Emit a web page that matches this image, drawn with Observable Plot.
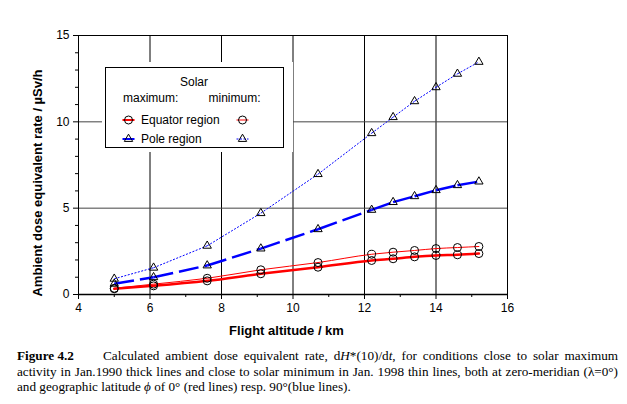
<!DOCTYPE html>
<html>
<head>
<meta charset="utf-8">
<script src="https://cdn.jsdelivr.net/npm/d3@7"></script>
<script src="https://cdn.jsdelivr.net/npm/@observablehq/plot@0.6"></script>
<style>
  html, body { margin: 0; padding: 0; background: white; }
  #chart svg { display: block; }
  #caption {
    font-family: "Liberation Serif", "Times New Roman", serif;
    font-size: 13.2px;
    line-height: 15.5px;
    margin-left: 17px;
    width: 601px;
    padding-top: 8px;
    color: black;
  }
  #caption .j { text-align: justify; text-align-last: justify; white-space: nowrap; }
  #caption .l { text-align: left; white-space: nowrap; }
  #caption b { display: inline-block; width: 86px; text-align: left; text-align-last: left; white-space: nowrap; }
</style>
</head>
<body>
<div id="chart"></div>
<div id="caption">
  <div class="j"><b>Figure&nbsp;4.2</b>Calculated ambient dose equivalent rate, d<i>H</i>*(10)/d<i>t</i>, for conditions close to solar maximum</div>
  <div class="j">activity in Jan.1990 thick lines and close to solar minimum in Jan. 1998 thin lines, both at zero-meridian (λ=0°)</div>
  <div class="l">and geographic latitude <i>ϕ</i> of 0° (red lines) resp. 90°(blue lines).</div>
</div>
<script>
// Flight altitude (km)
const altitude = [5.0, 6.1, 7.6, 9.1, 10.7, 12.2, 12.8, 13.4, 14.0, 14.6, 15.2];
// Ambient dose equivalent rate (µSv/h)
const equatorMax = [0.33, 0.50, 0.79, 1.20, 1.58, 1.97, 2.07, 2.18, 2.26, 2.30, 2.37];
const equatorMin = [0.36, 0.60, 0.94, 1.43, 1.85, 2.33, 2.45, 2.55, 2.66, 2.72, 2.78];
const poleMax    = [0.62, 1.00, 1.68, 2.66, 3.78, 4.90, 5.35, 5.69, 6.04, 6.33, 6.54];
const poleMin    = [0.91, 1.55, 2.82, 4.71, 6.97, 9.34, 10.27, 11.19, 12.00, 12.78, 13.47];

const xTicks = [4, 6, 8, 10, 12, 14, 16];
const xMinorTicks = [5, 7, 9, 11, 13, 15];
const yTicks = [0, 5, 10, 15];
const yMinorTicks = [1, 2, 3, 4, 6, 7, 8, 9, 11, 12, 13, 14];

const series = [
  {values: equatorMax, stroke: "#ff0000", width: 2.5, dash: null, symbol: "circle"},
  {values: equatorMin, stroke: "#ff0000", width: 1, dash: null, symbol: "circle"},
  {values: poleMax, stroke: "#0000ff", width: 2.5, dash: "20,6", symbol: "triangle"},
  {values: poleMin, stroke: "#0000ff", width: 1, dash: "2,1.5", symbol: "triangle"}
];

// dashed series split into segments (dash pattern restarts at every data point)
const lineMarks = [];
const dotMarks = [];
for (const s of series) {
  const pts = altitude.map((x, i) => ({x, y: s.values[i]}));
  const segs = altitude.slice(1).flatMap((x, i) => [
    {x: altitude[i], y: s.values[i], seg: i},
    {x, y: s.values[i + 1], seg: i}
  ]);
  if (s.dash) {
    lineMarks.push(Plot.line(segs, {x: "x", y: "y", z: "seg", stroke: s.stroke, strokeWidth: s.width, strokeDasharray: s.dash, strokeLinecap: "butt"}));
  } else {
    lineMarks.push(Plot.line(pts, {x: "x", y: "y", stroke: s.stroke, strokeWidth: s.width, curve: "monotone-x"}));
  }
  dotMarks.push(Plot.dot(pts, {x: "x", y: "y", symbol: s.symbol, r: s.symbol === "circle" ? 4 : 3.1, stroke: "black", strokeWidth: 1, fill: "none"}));
}

const chart = Plot.plot({
  width: 627,
  height: 340,
  marginLeft: 78,
  marginRight: 120,
  marginTop: 35,
  marginBottom: 46,
  style: {fontFamily: "'Liberation Sans', Arial, sans-serif", fontSize: "12px", color: "black", background: "white", overflow: "visible"},
  x: {domain: [4, 16]},
  y: {domain: [0, 15]},
  marks: [
    Plot.gridX([6, 8, 10, 12, 14], {stroke: "black", strokeOpacity: 1, strokeWidth: 1}),
    Plot.gridY([5, 10], {stroke: "#444", strokeOpacity: 1, strokeWidth: 1}),
    ...lineMarks,
    ...dotMarks,
    Plot.frame({stroke: "black", strokeWidth: 1}),
    Plot.ruleY([0], {stroke: "black", strokeWidth: 1.5}),
    Plot.axisX(xTicks, {tickSize: 5, tickPadding: 4, label: null, fontSize: 12}),
    Plot.axisX(xMinorTicks, {tickSize: 3, tickFormat: () => "", label: null}),
    Plot.axisY(yTicks, {tickSize: 5, tickPadding: 4, label: null, fontSize: 12}),
    Plot.axisY(yMinorTicks, {tickSize: 3, tickFormat: () => "", label: null})
  ]
});

document.getElementById("chart").appendChild(chart);

// Axis titles and legend
const svg = d3.select(chart);
const font = "'Liberation Sans', Arial, sans-serif";

svg.append("text")
  .attr("x", 286.5).attr("y", 330).attr("dy", "0.35em")
  .attr("text-anchor", "middle")
  .attr("font-family", font).attr("font-size", 13).attr("font-weight", "bold")
  .attr("fill", "black")
  .text("Flight altitude / km");

svg.append("text")
  .attr("transform", "translate(42,183) rotate(-90)")
  .attr("text-anchor", "middle")
  .attr("font-family", font).attr("font-size", 13).attr("font-weight", "bold")
  .attr("fill", "black")
  .text("Ambient dose equivalent rate / µSv/h");

const lg = svg.append("g").attr("font-family", font).attr("font-size", 12).attr("fill", "black").attr("text-anchor", "start");
lg.append("rect").attr("x", 102).attr("y", 62).attr("width", 191).attr("height", 90).attr("fill", "white");
lg.append("rect").attr("x", 105.5).attr("y", 67.5).attr("width", 178).attr("height", 80).attr("fill", "white").attr("stroke", "black").attr("stroke-width", 1);
lg.append("text").attr("x", 194).attr("y", 82).attr("dy", "0.35em").attr("text-anchor", "middle").text("Solar");
lg.append("text").attr("x", 123).attr("y", 98).attr("dy", "0.35em").attr("text-anchor", "start").text("maximum:");
lg.append("text").attr("x", 208.5).attr("y", 98).attr("dy", "0.35em").attr("text-anchor", "start").text("minimum:");
lg.append("text").attr("x", 141).attr("y", 120).attr("dy", "0.35em").attr("text-anchor", "start").text("Equator region");
lg.append("text").attr("x", 141).attr("y", 139).attr("dy", "0.35em").attr("text-anchor", "start").text("Pole region");

const legendRows = [
  {y: 120, s: series[0], cx: 128.5},
  {y: 120, s: series[1], cx: 242.5},
  {y: 139, s: series[2], cx: 128.5},
  {y: 139, s: series[3], cx: 242.5}
];
for (const r of legendRows) {
  lg.append("line")
    .attr("x1", r.cx - 6).attr("x2", r.cx + 6).attr("y1", r.y).attr("y2", r.y)
    .attr("stroke", r.s.stroke).attr("stroke-width", r.s.width > 1 ? 2 : 1)
    .attr("stroke-dasharray", r.s.dash && r.s.width === 1 ? "2,1.5" : null);
  const isCircle = r.s.symbol === "circle";
  const sym = d3.symbol(isCircle ? d3.symbolCircle : d3.symbolTriangle, isCircle ? Math.PI * 16 : Math.PI * 3.1 * 3.1);
  lg.append("path")
    .attr("transform", `translate(${r.cx},${r.y})`)
    .attr("d", sym())
    .attr("fill", "none").attr("stroke", "black").attr("stroke-width", 1);
}
</script>
</body>
</html>
